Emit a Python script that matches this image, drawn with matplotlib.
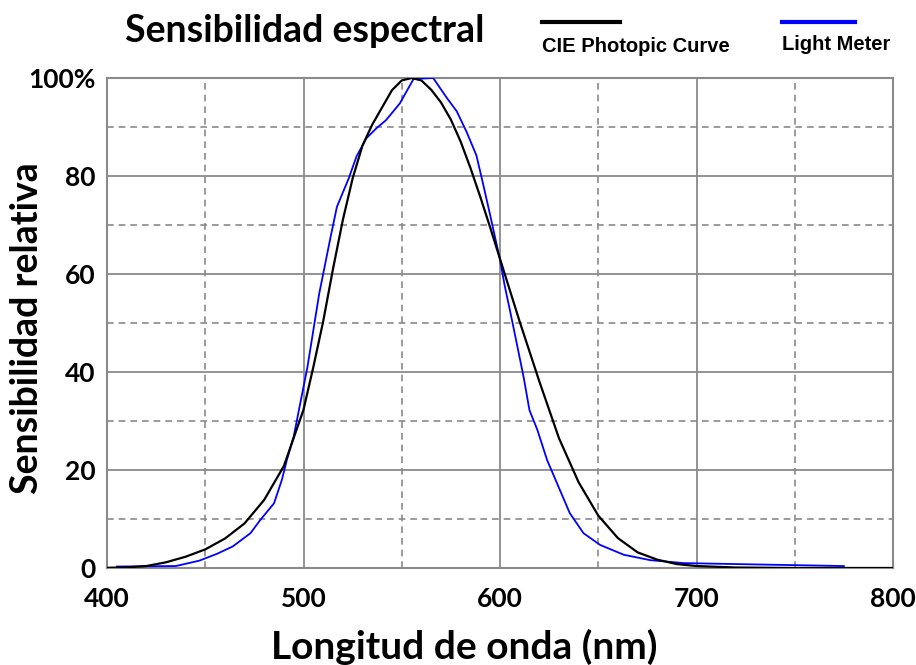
import matplotlib
matplotlib.use("Agg")
import matplotlib.pyplot as plt
from matplotlib.lines import Line2D

# CIE photopic curve (nm, % relative)
cie_wl = [400, 410, 420, 430, 440, 450, 460, 470, 480, 490, 500, 505, 510,
          515, 520, 525, 530, 535, 540, 545, 550, 555, 560, 565, 570, 575,
          580, 585, 590, 595, 600, 610, 620, 630, 640, 650, 660, 670, 680,
          690, 700, 720, 750, 800]
cie_val = [0.04, 0.12, 0.4, 1.16, 2.3, 3.8, 6.0, 9.1, 13.9, 20.8, 32.3, 41.0,
           50.3, 61.0, 71.0, 79.5, 86.2, 90.5, 94.0, 97.5, 99.5, 100.0, 99.5,
           97.6, 95.0, 91.5, 87.0, 81.6, 75.7, 69.5, 63.1, 50.3, 38.1, 26.5,
           17.5, 10.7, 6.1, 3.2, 1.7, 0.8, 0.4, 0.1, 0.0, 0.0]

# light meter response
meter_wl = [405, 420, 435, 447, 456, 464, 473, 478, 485, 489, 491.5, 495,
            498, 502, 508, 513.5, 517, 523, 527, 532, 537, 542, 549, 556,
            566, 573, 578, 583, 588, 591.5, 595, 600, 602.5, 605, 608.5,
            612, 615, 619, 624, 630.5, 635.5, 642.5, 651, 663, 676.5, 693.5,
            727, 775]
meter_val = [0.3, 0.35, 0.4, 1.5, 2.9, 4.4, 7.1, 9.8, 13.2, 18.0, 22.0, 26.8,
             32.9, 41.0, 56.0, 67.0, 73.7, 79.5, 84.0, 87.7, 89.7, 91.4, 94.8,
             99.8, 100.0, 95.9, 93.2, 89.0, 84.2, 78.2, 72.0, 62.9, 57.4,
             52.7, 45.9, 39.0, 32.2, 28.2, 22.0, 15.9, 11.2, 7.1, 4.7, 2.7,
             1.6, 1.0, 0.75, 0.4]

x_ticks = [400, 500, 600, 700, 800]
y_ticks = [0, 20, 40, 60, 80, 100]
y_labels = ["0", "20", "40", "60", "80", "100%"]

FONT = ["Lato", "DejaVu Sans"]
LEG_FONT = ["Liberation Sans", "DejaVu Sans"]
GRID = "#8a8a8a"

fig = plt.figure(figsize=(9.16, 6.65), dpi=100)
ax = fig.add_axes([107 / 916, 1 - 568 / 665, 786 / 916, 490 / 665])

ax.set_xlim(400, 800)
ax.set_ylim(0, 100)

# grid: solid majors, dashed minors
for x in range(450, 800, 100):
    ax.axvline(x, color=GRID, lw=1.2, ls=(0, (4, 3)), zorder=1)
for x in x_ticks[1:-1]:
    ax.axvline(x, color=GRID, lw=1.3, zorder=1)
for y in range(10, 100, 20):
    ax.axhline(y, color=GRID, lw=1.2, ls=(0, (4, 3)), zorder=1)
for y in y_ticks[1:-1]:
    ax.axhline(y, color=GRID, lw=1.3, zorder=1)

ax.plot(meter_wl, meter_val, color="#0000ff", lw=1.3, zorder=3)
ax.plot(cie_wl, cie_val, color="black", lw=1.6, zorder=4)

for s in ax.spines.values():
    s.set_color(GRID)
    s.set_linewidth(1.5)

ax.set_xticks(x_ticks)
ax.set_yticks(y_ticks)
ax.set_yticklabels(y_labels)
ax.tick_params(axis="y", length=0, pad=8)
ax.tick_params(axis="x", length=0, pad=14)
for lab in ax.get_xticklabels() + ax.get_yticklabels():
    lab.set_family(FONT)
    lab.set_fontsize(19)
    lab.set_fontweight("bold")

fig.text(27 / 916, 1 - 328 / 665, "Sensibilidad relativa", rotation=90,
         ha="center", va="center", fontsize=27, fontweight="bold", family=FONT)
fig.text(464 / 916, 1 - 647 / 665, "Longitud de onda (nm)", ha="center",
         va="center", fontsize=28, fontweight="bold", family=FONT)
fig.text(305 / 916, 1 - 31 / 665, "Sensibilidad espectral", ha="center",
         va="center", fontsize=27, fontweight="bold", family=FONT)

# legend drawn by hand above the plot
fig.add_artist(Line2D([542 / 916, 620 / 916], [1 - 22 / 665] * 2,
                      color="black", lw=3))
fig.add_artist(Line2D([782 / 916, 855 / 916], [1 - 22 / 665] * 2,
                      color="#0000ff", lw=3))
fig.text(542 / 916, 1 - 46 / 665, "CIE Photopic Curve", ha="left",
         va="center", fontsize=14.5, fontweight="bold", family=LEG_FONT)
fig.text(782 / 916, 1 - 45 / 665, "Light Meter", ha="left",
         va="center", fontsize=14.5, fontweight="bold", family=LEG_FONT)

fig.savefig("out.png", dpi=100)
